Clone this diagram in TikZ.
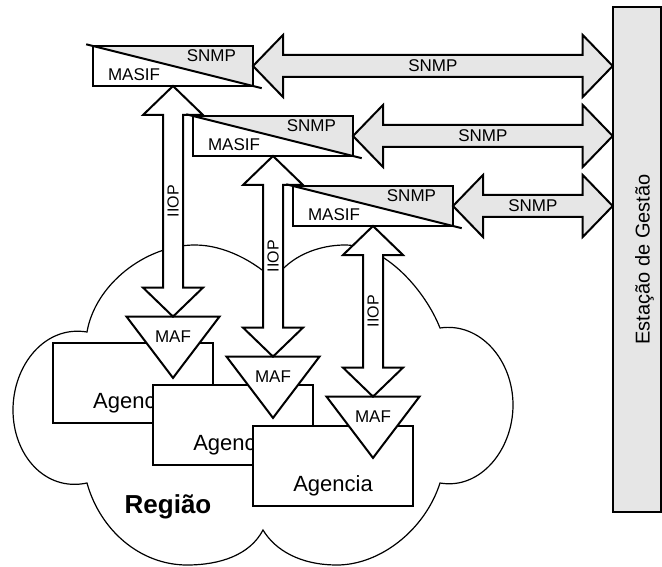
\documentclass[tikz,border=0pt]{standalone}
\usepackage{fontspec}
\setmainfont{Liberation Sans}
\usepackage{tikz}
\usetikzlibrary{calc,shapes.geometric}
\definecolor{mgmtgray}{RGB}{230,230,230}
\newcommand{\iiopArrow}[2]{%
  \draw[iiopbody] (#1) -- ++(30,29) -- ++(-20,0) -- ($(#2)+(10,-29)$) -- ++(20,0) -- (#2)
    -- ++(-30,-29) -- ++(20,0) -- ($(#1)+(-10,29)$) -- ++(-20,0) -- cycle;}
\newcommand{\snmpArrow}[2]{%
  \draw[snmpbody] (#1) -- ++(30,-31) -- ++(0,20) -- ($(#2)+(-30,-11)$) -- ++(0,-20) -- (#2)
    -- ++(-30,31) -- ++(0,-20) -- ($(#1)+(30,11)$) -- ++(0,20) -- cycle;}

\begin{document}
\begin{tikzpicture}[x=1pt, y=-1pt,
    every node/.style={inner sep=0pt, outer sep=0pt},
    cloudline/.style={line width=1.2pt},
    masifbox/.style={draw, line width=2pt, fill=white, minimum width=160pt, minimum height=40pt,
      path picture={\fill[mgmtgray] (path picture bounding box.north west) -- (path picture bounding box.north east)
        -- (path picture bounding box.south east) -- cycle;}},
    diagline/.style={line width=2pt, shorten <=-7pt, shorten >=-9pt},
    boxtext/.style={font=\fontsize{17}{20}\selectfont},
    iiopbody/.style={draw, line width=2pt, fill=white},
    snmpbody/.style={draw, line width=2pt, fill=mgmtgray},
    iioptext/.style={font=\fontsize{16}{19}\selectfont, rotate=90},
    maftri/.style={isosceles triangle, isosceles triangle stretches, shape border rotate=270, draw, line width=2pt,
      fill=white, minimum width=93pt, minimum height=59pt, text height=18pt, text depth=0pt,
      font=\fontsize{17}{20}\selectfont},
    agenciabox/.style={draw, line width=2pt, fill=white, minimum width=160pt, minimum height=80pt,
      text height=50pt, text depth=0pt, font=\fontsize{22}{26}\selectfont},
    stationbox/.style={draw, line width=2pt, fill=mgmtgray, rotate=90, minimum width=505pt, minimum height=48pt,
      text height=26pt, text depth=0pt, font=\fontsize{20}{24}\selectfont},
    regiaotext/.style={font=\bfseries\fontsize{26}{30}\selectfont}]
  \useasboundingbox (0,0) rectangle (662,567);
  \draw[cloudline] (87,332) .. controls (95,285) and (145,245) .. (195,245)
    .. controls (225,245) and (255,262) .. (274,280)
    .. controls (290,255) and (320,245) .. (345,245)
    .. controls (385,245) and (425,290) .. (440,328)
    .. controls (480,322) and (513,360) .. (513,405)
    .. controls (513,450) and (480,490) .. (440,483)
    .. controls (425,530) and (380,565) .. (337,565)
    .. controls (300,565) and (275,550) .. (263,530)
    .. controls (250,555) and (220,565) .. (187,565)
    .. controls (140,565) and (100,530) .. (87,483)
    .. controls (45,492) and (13,455) .. (13,410)
    .. controls (13,365) and (45,325) .. (87,332) -- cycle;
  \node[stationbox] (station) at (636.7,259.5) {Estação de Gestão};
  \node[agenciabox] (agencia1) at (133,383) {Agencia};
  \node[agenciabox] (agencia2) at (233,425) {Agencia};
  \node[agenciabox] (agencia3) at (333,466) {Agencia};
  \node[maftri] (maf1) at (173,333) {MAF};
  \node[maftri] (maf2) at (273,373) {MAF};
  \node[maftri] (maf3) at (373,413) {MAF};

  \node[masifbox] (masif1) at (173,66) {};
  \draw[diagline] (masif1.north west) -- (masif1.south east);
  \node[boxtext, anchor=east] (snmpin1) at ([shift={(-17,10)}]masif1.north east) {SNMP};
  \node[boxtext, anchor=west] (masifin1) at ([shift={(15,-11)}]masif1.south west) {MASIF};
  \iiopArrow{masif1.south}{maf1.north}
  \node[iioptext] (iiop1) at ($(masif1.south)!0.5!(maf1.north)$) {IIOP};

  \node[masifbox] (masif2) at (273,136) {};
  \draw[diagline] (masif2.north west) -- (masif2.south east);
  \node[boxtext, anchor=east] (snmpin2) at ([shift={(-17,10)}]masif2.north east) {SNMP};
  \node[boxtext, anchor=west] (masifin2) at ([shift={(15,-11)}]masif2.south west) {MASIF};
  \iiopArrow{masif2.south}{maf2.north}
  \node[iioptext] (iiop2) at ($(masif2.south)!0.5!(maf2.north)$) {IIOP};

  \node[masifbox] (masif3) at (373,206) {};
  \draw[diagline] (masif3.north west) -- (masif3.south east);
  \node[boxtext, anchor=east] (snmpin3) at ([shift={(-17,10)}]masif3.north east) {SNMP};
  \node[boxtext, anchor=west] (masifin3) at ([shift={(15,-11)}]masif3.south west) {MASIF};
  \iiopArrow{masif3.south}{maf3.north}
  \node[iioptext] (iiop3) at ($(masif3.south)!0.5!(maf3.north)$) {IIOP};

  \coordinate (stA) at (masif1.east -| station.north);
  \coordinate (stB) at (masif2.east -| station.north);
  \coordinate (stC) at (masif3.east -| station.north);
  \snmpArrow{masif1.east}{stA}
  \snmpArrow{masif2.east}{stB}
  \snmpArrow{masif3.east}{stC}
  \node[boxtext] (snmpA) at ($(masif1.east)!0.5!(stA)$) {SNMP};
  \node[boxtext] (snmpB) at ($(masif2.east)!0.5!(stB)$) {SNMP};
  \node[boxtext] (snmpC) at ($(masif3.east)!0.5!(stC)$) {SNMP};

  \node[regiaotext, anchor=base] (regiao) at (168,513) {Região};
\end{tikzpicture}
\end{document}
